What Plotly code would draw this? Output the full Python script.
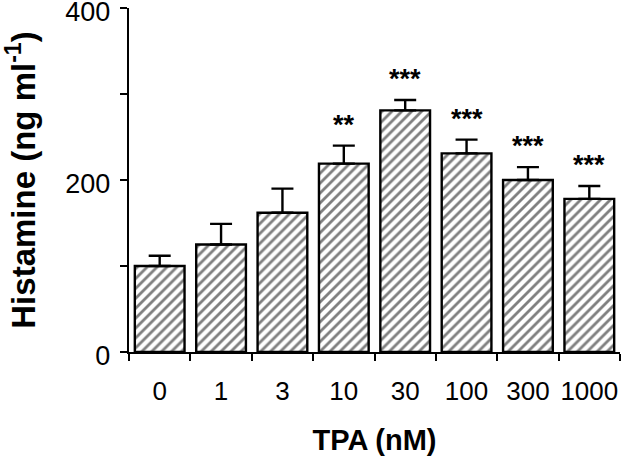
import plotly.graph_objects as go

categories = ["0", "1", "3", "10", "30", "100", "300", "1000"]
histamine = [100, 125, 162, 219, 281, 231, 200, 178]
sem = [12, 24, 28, 21, 12, 16, 15, 15]
significance = ["", "", "", "**", "***", "***", "***", "***"]

y_tick_vals = [0, 200, 400]

FONT = "Liberation Sans, Arial, sans-serif"

fig = go.Figure()
fig.add_trace(go.Bar(
    x=categories,
    y=histamine,
    width=0.81,
    marker=dict(
        color="white",
        line=dict(color="black", width=2.4),
        pattern=dict(shape="/", fgcolor="black", bgcolor="white", size=7, solidity=0.4),
    ),
    error_y=dict(type="data", array=sem, arrayminus=[0] * len(sem), symmetric=False,
                 color="black", thickness=2.4, width=11),
    showlegend=False,
))

for i, (v, e, s) in enumerate(zip(histamine, sem, significance)):
    if s:
        fig.add_annotation(x=i, y=v + e, text="<b>" + s + "</b>", showarrow=False, yanchor="middle",
                           yshift=21, font=dict(family=FONT, size=27, color="black"))

fig.update_layout(
    width=640, height=456,
    margin=dict(l=129, r=20, t=8, b=104, autoexpand=False),
    paper_bgcolor="white", plot_bgcolor="white",
    font=dict(family=FONT, color="black"),
    bargap=0.19,
)
fig.update_xaxes(
    type="category", range=[-0.5, 7.5], tickson="boundaries", tickangle=0, automargin=False,
    ticklabelstandoff=15,
    showline=True, linecolor="black", linewidth=2.4,
    ticks="outside", ticklen=7, tickwidth=2.2, tickcolor="black",
    showgrid=False, zeroline=False,
    tickfont=dict(family=FONT, size=26, color="black"),
    title=dict(text="<b>TPA (nM)</b>", font=dict(family=FONT, size=29, color="black"), standoff=26),
)
fig.update_yaxes(
    range=[0, 400], tickvals=y_tick_vals, ticklabeloverflow="allow", automargin=False,
    ticklabelstandoff=4, ticklabelshift=4,
    showline=True, linecolor="black", linewidth=2.4,
    ticks="outside", ticklen=7, tickwidth=2.2, tickcolor="black",
    minor=dict(dtick=100, ticks="outside", ticklen=7, tickwidth=2.2, tickcolor="black", showgrid=False),
    showgrid=False, zeroline=False,
    tickfont=dict(family=FONT, size=27, color="black"),
    title=dict(text="<b>Histamine (ng ml<sup>-1</sup>)</b>", font=dict(family=FONT, size=33, color="black"), standoff=29),
)

fig.write_html("out.html", post_script="document.body.style.margin='0';",
               config={"displayModeBar": False})
